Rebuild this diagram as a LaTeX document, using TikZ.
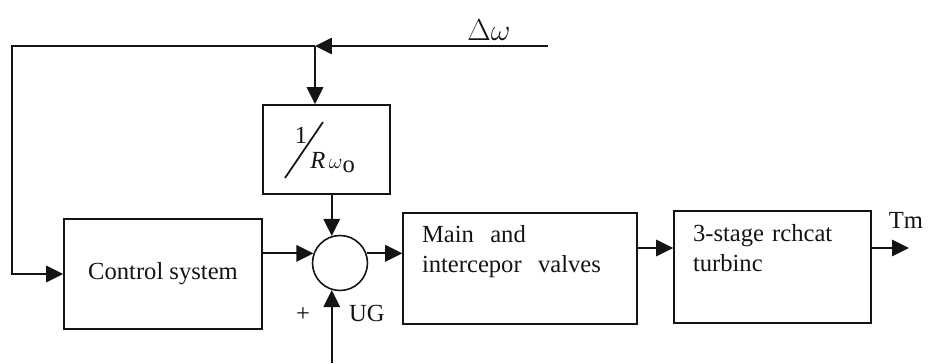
\documentclass[tikz,border=0pt]{standalone}
\usepackage{fontspec}
\setmainfont{Liberation Serif}
\usepackage{tikz}
\usetikzlibrary{arrows.meta,calc}
\definecolor{ink}{HTML}{141414}
\tikzset{
  blk/.style={draw=ink,line width=0.9pt,text=ink,inner sep=0pt,align=center},
  txtblk/.style={draw=ink,line width=0.9pt,text=ink,align=left,inner xsep=0.38cm,
    inner ysep=0pt},
  sumc/.style={circle,draw=ink,line width=0.9pt,minimum size=1.1cm,inner sep=0pt},
  arr/.style={-{Triangle[length=3.4mm,width=3.3mm]},line width=1pt,draw=ink},
  ln/.style={line width=1pt,draw=ink},
  lbl/.style={text=ink,inner sep=0pt},
}
\begin{document}
\begin{tikzpicture}[x=0.02cm,y=-0.02cm,font=\fontsize{14}{17}\selectfont]
    \useasboundingbox (0,0) rectangle (931,363);

    \node[blk,minimum width=3.96cm,minimum height=2.2cm] (ctrl) at (163,274) {Control system};
    \node[blk,minimum width=2.54cm,minimum height=1.78cm] (gain) at (326.5,149.5) {};
    \node[sumc] (sum) at (340,263) {};
    \node[txtblk,text width=3.92cm,minimum height=2.22cm] (main) at (520,268.5)
      {Main\ \ and\\intercepor\ \ valves\\\strut};
    \node[txtblk,text width=3.18cm,minimum height=2.24cm] (turb) at (772.5,267)
      {3-stage rchcat\\turbinc\\\strut};

    \node[lbl,anchor=base] (one) at (301,143) {1};
    \node[lbl,anchor=base west] (rw) at (310,168)
      {{\itshape R}\kern2pt{\large$\omega$}\raisebox{-0.4ex}{o}};
    \draw[ln] ($(gain.center)+(-41.5,28.5)$) -- ($(gain.center)+(-3.5,-27.5)$);

    \coordinate (din) at (548,46);
    \coordinate (j) at (315,46);
    \coordinate (fb) at (12,46);
    \coordinate (bot) at (0,363);
    \coordinate (tm) at (909,248);

    \node[lbl,font=\fontsize{19}{22}\selectfont] (dw) at (489,30) {$\Delta\omega$};
    \node[lbl] (plus) at (303,315) {+};
    \node[lbl] (ug) at (367,313) {UG};
    \node[lbl] (tml) at (906,220) {Tm};

    \draw[arr] (din) -- (j);
    \draw[arr] (j) -- (j |- gain.north);
    \draw[arr] (j) -- (fb) |- (ctrl.west);
    \draw[arr] (ctrl.east |- sum.160) -- (sum.160);
    \draw[arr] (gain.south -| sum.107) -- (sum.107);
    \draw[arr] (sum.253 |- bot) -- (sum.253);
    \draw[arr] (sum.20) -- (sum.20 -| main.west);
    \draw[arr] (main.east |- tm) -- (turb.west |- tm);
    \draw[arr] (turb.east |- tm) -- (tm);
  \end{tikzpicture}
\end{document}
